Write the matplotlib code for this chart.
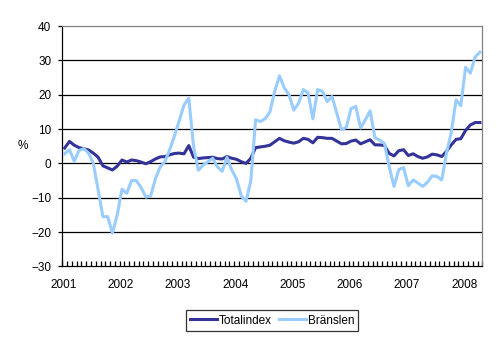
import matplotlib
matplotlib.use("Agg")
import matplotlib.pyplot as plt
import numpy as np

plt.rcParams["font.family"] = ["Liberation Sans", "DejaVu Sans"]
plt.rcParams["font.size"] = 8.5

# monthly values, Jan 2001 - Apr 2008
totalindex = [
    4.5, 6.4, 5.3, 4.6, 4.3, 3.9, 3.0, 1.8, -0.7, -1.3, -1.9, -0.8,
    1.0, 0.4, 1.0, 0.8, 0.4, -0.1, 0.5, 1.3, 1.9, 2.0, 2.5, 2.9,
    3.0, 2.8, 5.2, 1.8, 1.4, 1.6, 1.7, 1.8, 1.4, 1.3, 2.0, 1.5,
    1.2, 0.5, 0.0, 1.5, 4.6, 4.8, 5.0, 5.3, 6.3, 7.3, 6.6, 6.2,
    5.9, 6.3, 7.3, 7.0, 6.0, 7.6, 7.5, 7.3, 7.3, 6.5, 5.7, 5.8,
    6.5, 6.8, 5.7, 6.3, 6.9, 5.4, 5.4, 5.2, 2.9, 2.2, 3.7, 4.0,
    2.3, 2.8, 2.0, 1.5, 1.9, 2.7, 2.5, 2.0, 3.5, 5.4, 7.0, 7.2,
    9.6, 11.2, 11.9, 11.9,
]
branslen = [
    2.8, 4.0, 0.6, 3.8, 4.3, 3.0, 0.0, -7.7, -15.5, -15.5, -20.3, -15.0,
    -7.5, -8.7, -5.0, -5.0, -7.0, -9.8, -9.5, -4.5, -1.0, 0.5, 4.0, 8.0,
    12.5, 17.0, 19.0, 5.0, -2.0, -0.5, 0.5, 1.5, -1.0, -2.3, 1.8, -1.9,
    -4.5, -9.5, -11.0, -5.0, 12.7, 12.2, 13.0, 15.0, 21.0, 25.5, 22.0, 20.0,
    15.5, 17.5, 21.5, 20.5, 13.0, 21.5, 21.0, 18.0, 19.5, 14.7, 9.8, 10.5,
    16.0, 16.6, 10.3, 12.7, 15.3, 7.5, 6.8, 5.8, -1.0, -6.7, -1.8, -1.2,
    -6.5, -4.8, -5.7, -6.7, -5.5, -3.6, -3.8, -4.8, 3.0, 9.0, 18.5, 16.8,
    28.0, 26.3, 31.0, 32.4,
]
years = ["2001", "2002", "2003", "2004", "2005", "2006", "2007", "2008"]

n = len(totalindex)
x = np.arange(n) + 0.5

fig = plt.figure(figsize=(4.97, 3.40), dpi=100)
ax = fig.add_axes([0.1254, 0.2162, 0.8450, 0.7073])

ax.plot(x, totalindex, color="#333399", lw=2.2, label="Totalindex", zorder=3)
ax.plot(x, branslen, color="#99CCFF", lw=2.2, label="Bränslen", zorder=4)

ax.set_xlim(0, n)
ax.set_ylim(-30, 40)
ax.set_yticks(range(-30, 41, 10))
for v in range(-20, 40, 10):
    ax.axhline(v, color="black", lw=0.9, zorder=1)

ax.set_xticks(np.arange(len(years)) * 12 + 0.25)
ax.set_xticklabels(years)
ax.set_xticks(np.arange(0, n + 1), minor=True)
ax.tick_params(axis="x", which="major", length=0, pad=9)
ax.tick_params(axis="x", which="minor", direction="in", length=3.3, width=0.9)
ax.tick_params(axis="y", direction="out", length=3, width=0.9, pad=5)

for side in ("top", "right"):
    ax.spines[side].set_color("#808080")
for side in ("left", "bottom"):
    ax.spines[side].set_color("black")
for s in ax.spines.values():
    s.set_linewidth(0.9)

fig.text(23 / 497, 1 - 146 / 340, "%", ha="center", va="center")

leg = fig.legend(loc="center", bbox_to_anchor=(272 / 497, 1 - 320.5 / 340),
                 ncol=2, frameon=True, fancybox=False, handlelength=2.3,
                 handletextpad=0.15, columnspacing=0.6, borderpad=0.35,
                 borderaxespad=0)
leg.get_frame().set_edgecolor("black")
leg.get_frame().set_linewidth(0.9)

fig.savefig("out.png", dpi=100)
